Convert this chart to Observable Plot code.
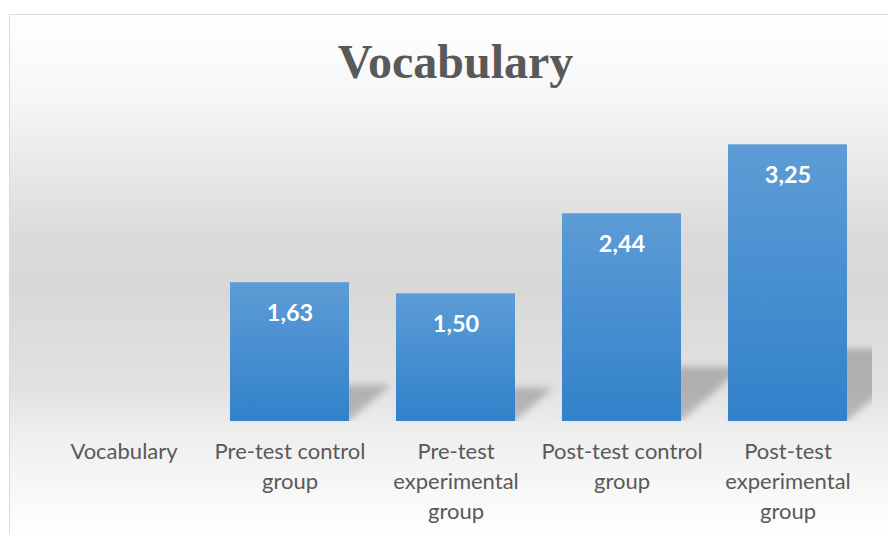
<!DOCTYPE html>
<html><head><meta charset="utf-8">
<script src="https://cdn.jsdelivr.net/npm/d3@7"></script>
<script src="https://cdn.jsdelivr.net/npm/@observablehq/plot@0.6"></script>
<style>
html,body{margin:0;padding:0;background:#fff;}
#wrap{position:relative;width:888px;height:534px;overflow:hidden;}
#bg{position:absolute;left:9px;top:14px;width:900px;height:520px;border-left:1.5px solid #d9d9d9;border-top:1.5px solid #d9d9d9;
  background:linear-gradient(to bottom,#ffffff 0%,#f7f7f7 15%,#ececec 26%,#dbdbdb 42%,#d8d8d8 53%,#e2e2e2 72%,#eeeeee 80%,#ffffff 100%);}
#chart{position:absolute;left:0;top:0;}
</style></head><body>
<div id="wrap"><div id="bg"></div><div id="chart"></div></div>
<script>
const title = "Vocabulary";
const categories = ["Vocabulary", "Pre-test control group", "Pre-test experimental group", "Post-test control group", "Post-test experimental group"];
const tickLabels = ["Vocabulary", "Pre-test control\ngroup", "Pre-test\nexperimental\ngroup", "Post-test control\ngroup", "Post-test\nexperimental\ngroup"];
const values = [null, 1.63, 1.50, 2.44, 3.25];
const yDomain = [0, 3.5];

const data = categories.map((c, i) => ({category: c, value: values[i]})).filter(d => d.value != null);
const fmt = v => v.toFixed(2).replace(".", ",");
const tickText = new Map(categories.map((c, i) => [c, tickLabels[i]]));

const chart = Plot.plot({
  width: 888, height: 534,
  marginLeft: 38, marginRight: 16, marginTop: 123, marginBottom: 113,
  style: {background: "transparent", color: "#595959", fontFamily: "Lato, sans-serif", overflow: "visible"},
  x: {domain: categories, paddingInner: 0.2857, paddingOuter: 0.1429, label: null},
  y: {domain: yDomain, axis: null},
  marks: [
    Plot.barY(data, {x: "category", y: "value", fill: "#000", clip: true}),
    Plot.barY(data, {x: "category", y: "value", fill: "url(#barGrad)"}),
    Plot.text(data, {x: "category", y: "value", text: d => fmt(d.value), dy: 31, fill: "white", fontWeight: "bold", fontSize: 23.5, fontFamily: "Lato, sans-serif"}),
    Plot.axisX({label: null, tickSize: 0, tickPadding: 16, fontSize: 22, lineHeight: 1.364, tickFormat: d => tickText.get(d), fill: "#595959", fontFamily: "Lato, sans-serif"}),
    Plot.text([title], {frameAnchor: "top", lineAnchor: "middle", dy: -60.4, fontSize: 48, fontWeight: "bold", fontFamily: "'Liberation Serif', 'Times New Roman', serif", fill: "#595959"})
  ]
});

// gradient + blur definitions inside the chart svg
const NS = "http://www.w3.org/2000/svg";
const defs = document.createElementNS(NS, "defs");
defs.innerHTML = `
  <linearGradient id="barGrad" x1="0" y1="0" x2="0" y2="1">
    <stop offset="0" stop-color="#5d9cd6"/>
    <stop offset="1" stop-color="#3281ca"/>
  </linearGradient>
  <filter id="shadowBlur" x="-50%" y="-50%" width="200%" height="200%">
    <feGaussianBlur stdDeviation="3.5"/>
  </filter>`;
chart.insertBefore(defs, chart.firstChild);

// perspective shadow: flatten and skew the first bar layer
const shadowG = chart.querySelectorAll('g[aria-label="bar"]')[0];
if (shadowG) {
  const inner = document.createElementNS(NS, "g");
  inner.setAttribute("filter", "url(#shadowBlur)");
  Array.from(shadowG.querySelectorAll("rect")).forEach(r => {
    const y = +r.getAttribute("y"), h = +r.getAttribute("height");
    const base = y + h, sh = h * 0.26, k = 1.15;
    r.setAttribute("y", base - sh);
    r.setAttribute("height", sh);
    r.setAttribute("fill", "#000");
    r.setAttribute("fill-opacity", "0.22");
    r.setAttribute("transform", `translate(${k * base},0) skewX(${-Math.atan(k) * 180 / Math.PI})`);
    inner.appendChild(r);
  });
  shadowG.appendChild(inner);
}
document.getElementById("chart").appendChild(chart);
</script>
</body></html>
